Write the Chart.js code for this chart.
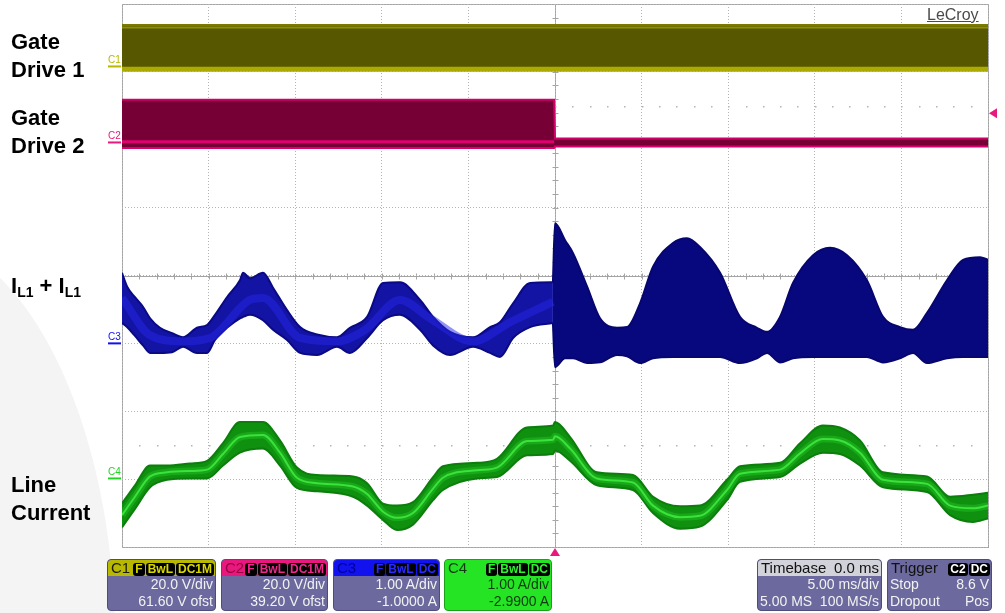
<!DOCTYPE html>
<html>
<head>
<meta charset="utf-8">
<title>Gate drive / inductor / line current capture</title>
<script src="https://cdn.jsdelivr.net/npm/chart.js@4.4.1/dist/chart.umd.min.js"></script>
<style>
  html, body { margin: 0; padding: 0; background: #fff; }
  #wrap { position: relative; width: 1005px; height: 613px; overflow: hidden;
          font-family: "Liberation Sans", Arial, sans-serif; }
  #swoosh { position: absolute; left: -310px; top: 232px; width: 425px; height: 820px;
            border-radius: 50%; background: #f4f4f4; }
  #scope { position: absolute; left: 0; top: 0; }
  .lbl { position: absolute; left: 11px; font-weight: bold; font-size: 22px; line-height: 28px; color: #000; }
  .lbl sub { font-size: 14px; vertical-align: -4px; line-height: 0; }
  #brand { position: absolute; left: 927px; top: 6px; font-size: 16px; color: #4a4a4a; text-decoration: underline; }

  .box { position: absolute; top: 559px; height: 52px; box-sizing: border-box; border-radius: 4px;
         background: #6b699d; border: 1px solid #4e4c7c; overflow: hidden; color: #f2f2f2; font-size: 14px; }
  .hdr { height: 16px; line-height: 16px; padding: 0 1px 0 3px; display: flex;
         justify-content: space-between; align-items: center; font-size: 15px; border-radius: 3px 3px 0 0; }
  .row { height: 17px; line-height: 17px; padding: 0 2px; text-align: right; white-space: nowrap; }
  .row.split { display: flex; justify-content: space-between; }
  .bd { display: inline-block; background: #000; border-radius: 3px; padding: 0 2px; margin-left: 1px;
        font-size: 12px; line-height: 13px; height: 13px; }
</style>
</head>
<body>
<div id="wrap">
  <div id="swoosh"></div>
  <canvas id="scope" width="1005" height="613"></canvas>

  <div class="lbl" style="top:28px">Gate<br>Drive 1</div>
  <div class="lbl" style="top:104px">Gate<br>Drive 2</div>
  <div class="lbl" style="top:272px">I<sub>L1</sub> + I<sub>L1</sub></div>
  <div class="lbl" style="top:471px">Line<br>Current</div>
  <div id="brand">LeCroy</div>

  <!-- channel / timebase / trigger readouts -->
  <div class="box" style="left:107px;width:109px">
    <div class="hdr" style="background:#b8b800;color:#1a1a00"><span>C1</span>
      <span><b class="bd" style="color:#d8d800">F</b><b class="bd" style="color:#d8d800">BwL</b><b class="bd" style="color:#d8d800">DC1M</b></span></div>
    <div class="row">20.0 V/div</div>
    <div class="row">61.60 V ofst</div>
  </div>
  <div class="box" style="left:221px;width:107px">
    <div class="hdr" style="background:#e8187e;color:#9a0040"><span>C2</span>
      <span><b class="bd" style="color:#f0288c">F</b><b class="bd" style="color:#f0288c">BwL</b><b class="bd" style="color:#f0288c">DC1M</b></span></div>
    <div class="row">20.0 V/div</div>
    <div class="row">39.20 V ofst</div>
  </div>
  <div class="box" style="left:333px;width:107px">
    <div class="hdr" style="background:#1212ee;color:#0000a0"><span>C3</span>
      <span><b class="bd" style="color:#2a2aff">F</b><b class="bd" style="color:#2a2aff">BwL</b><b class="bd" style="color:#2a2aff">DC</b></span></div>
    <div class="row">1.00 A/div</div>
    <div class="row">-1.0000 A</div>
  </div>
  <div class="box" style="left:444px;width:108px;background:#24e424;border-color:#1aa01a;color:#123a12">
    <div class="hdr" style="background:#24e424;color:#123a12"><span>C4</span>
      <span><b class="bd" style="color:#30f030">F</b><b class="bd" style="color:#30f030">BwL</b><b class="bd" style="color:#30f030">DC</b></span></div>
    <div class="row">1.00 A/div</div>
    <div class="row">-2.9900 A</div>
  </div>
  <div class="box" style="left:757px;width:125px">
    <div class="hdr" style="background:#d2d2da;color:#111;padding-right:2px"><span>Timebase</span><span>0.0 ms</span></div>
    <div class="row">5.00 ms/div</div>
    <div class="row split"><span>5.00 MS</span><span>100 MS/s</span></div>
  </div>
  <div class="box" style="left:887px;width:105px">
    <div class="hdr" style="color:#111"><span>Trigger</span>
      <span><b class="bd" style="color:#fff">C2</b><b class="bd" style="color:#fff">DC</b></span></div>
    <div class="row split"><span>Stop</span><span>8.6 V</span></div>
    <div class="row split"><span>Dropout</span><span>Pos</span></div>
  </div>
</div>

<script>
// ---------------------------------------------------------------
// Data: time in ms (5 ms/div, trigger at 0), levels in screen divisions
// from the graticule centre (+4 top, -4 bottom)
// ---------------------------------------------------------------
const gateTime = [-25, 25];
const gd1Top = [3.69, 3.69];
const gd1TopEdge = [3.655, 3.655];
const gd1Bottom = [3.04, 3.04];

const gd2Time = [-25, -0.05, 0, 25];
const gd2Top = [2.59, 2.59, 2.02, 2.02];
const gd2Bottom = [1.88, 1.88, 1.90, 1.90];
const gd2LineTime = [-25, -0.05];
const gd2Line = [1.97, 1.97];

// C3: inductor current envelope
const c3Time = [-25.00, -24.71, -24.25, -23.79, -23.38, -22.81, -22.11, -21.48, -20.67, -20.09,
  -19.63, -18.94, -18.19, -18.01, -17.61, -16.86, -16.28, -15.47, -14.72, -13.74,
  -12.59, -11.84, -10.85, -9.93, -8.95, -7.79, -7.04, -6.06, -4.73, -3.75,
  -3.18, -2.42, -1.44, -0.12,
  0.00, 0.58, 1.04, 1.85, 2.60, 3.58, 4.16, 4.91, 5.66, 6.81,
  7.62, 8.37, 9.53, 10.68, 11.66, 12.24, 12.99, 13.74, 14.90, 15.88,
  16.86, 18.01, 18.94, 19.92, 20.67, 21.48, 22.63, 23.56, 24.54, 25.00];
const c3Upper = [0.04, -0.16, -0.32, -0.46, -0.63, -0.77, -0.85, -0.91, -0.77, -0.73,
  -0.58, -0.32, -0.07, 0.04, -0.04, 0.04, -0.18, -0.51, -0.76, -0.87,
  -0.91, -0.77, -0.61, -0.11, -0.10, -0.36, -0.61, -0.83, -0.91, -0.76,
  -0.69, -0.41, -0.11, -0.10,
  0.77, 0.52, 0.33, -0.16, -0.63, -0.77, -0.76, -0.41, 0.13, 0.48,
  0.55, 0.42, 0.04, -0.61, -0.77, -0.83, -0.61, -0.11, 0.30, 0.41,
  0.30, -0.07, -0.61, -0.76, -0.80, -0.55, -0.07, 0.23, 0.27, 0.23];
const c3Lower = [-0.70, -0.76, -0.89, -1.03, -1.14, -1.14, -1.13, -1.05, -1.14, -1.14,
  -0.95, -0.77, -0.63, -0.61, -0.58, -0.66, -0.80, -0.95, -1.14, -1.17,
  -1.05, -1.14, -0.92, -0.66, -0.58, -0.80, -1.03, -1.17, -1.05, -1.14,
  -1.20, -0.92, -0.76, -0.70,
  -1.35, -1.22, -1.22, -1.29, -1.28, -1.17, -1.19, -1.29, -1.22, -1.20,
  -1.20, -1.20, -1.20, -1.29, -1.22, -1.14, -1.28, -1.22, -1.20, -1.20,
  -1.20, -1.20, -1.28, -1.22, -1.14, -1.29, -1.22, -1.20, -1.20, -1.20];
const c3CoreTime = [-25.00, -23.38, -21.48, -19.92, -17.61, -16.86, -14.72, -12.59, -10.97, -8.95,
  -7.22, -4.73, -2.60, -0.12];
const c3Core = [-0.33, -0.88, -0.97, -0.92, -0.36, -0.33, -0.92, -0.97, -0.80, -0.36,
  -0.63, -0.97, -0.69, -0.39];

// C4: line current envelope
const c4Time = [-25.00, -24.25, -23.38, -22.40, -21.07, -20.09, -19.17, -18.19, -16.86, -15.88,
  -14.90, -13.74, -11.66, -10.85, -9.93, -9.12, -8.20, -7.04, -6.47, -4.50,
  -3.35, -1.62, -0.12,
  0.00, 0.87, 2.42, 4.50, 5.66, 7.22, 8.37, 9.93, 10.68, 12.99,
  14.15, 15.47, 16.45, 17.61, 18.94, 21.48, 22.81, 24.13, 25.00];
const c4Upper = [-3.36, -3.09, -2.80, -2.80, -2.77, -2.73, -2.47, -2.16, -2.16, -2.43,
  -2.83, -2.94, -2.96, -3.06, -3.36, -3.39, -3.34, -2.97, -2.81, -2.76,
  -2.70, -2.24, -2.21,
  -2.16, -2.38, -2.90, -2.94, -3.26, -3.40, -3.39, -3.01, -2.81, -2.76,
  -2.47, -2.21, -2.24, -2.43, -2.90, -2.96, -3.26, -3.23, -3.20];
const c4Lower = [-3.71, -3.44, -3.12, -3.01, -2.99, -2.99, -2.80, -2.61, -2.55, -2.80,
  -3.13, -3.18, -3.26, -3.39, -3.60, -3.75, -3.67, -3.31, -3.16, -2.99,
  -2.97, -2.65, -2.63,
  -2.58, -2.73, -3.09, -3.16, -3.50, -3.73, -3.70, -3.31, -3.04, -2.97,
  -2.77, -2.61, -2.63, -2.80, -3.12, -3.19, -3.53, -3.63, -3.58];
const c4Mid = [-3.53, -3.26, -2.96, -2.90, -2.88, -2.86, -2.63, -2.38, -2.35, -2.61,
  -2.98, -3.06, -3.11, -3.22, -3.48, -3.57, -3.50, -3.14, -2.98, -2.87,
  -2.83, -2.44, -2.42,
  -2.37, -2.55, -2.99, -3.05, -3.39, -3.56, -3.54, -3.16, -2.92, -2.86,
  -2.62, -2.41, -2.43, -2.61, -3.01, -3.07, -3.39, -3.43, -3.39];

// channel offset markers (from the readouts: offset / volts-per-div) and trigger
const chNames = ['C1', 'C2', 'C3', 'C4'];
const chColors = ['#b8b800', '#e8187e', '#1212ee', '#24d424'];
const chOffset = [61.60, 39.20, -1.0, -2.99];
const chPerDiv = [20.0, 20.0, 1.0, 1.0];
const trigLevel = 8.6;   // V on C2

// ---------------------------------------------------------------
const pts = (t, v) => t.map((x, i) => ({ x: x, y: v[i] }));
const datasets = [];

function band(time, up, lo, fill, upColor, loColor, upW, loW, smooth) {
  const mode = smooth ? 'monotone' : 'default';
  datasets.push({ data: pts(time, up), fill: '+1', backgroundColor: fill,
    borderColor: upColor, borderWidth: upW, order: 2, cubicInterpolationMode: mode });
  datasets.push({ data: pts(time, lo), fill: false,
    borderColor: loColor, borderWidth: loW, order: 2, cubicInterpolationMode: mode });
}
function trace(time, vals, color, w, order, smooth) {
  datasets.push({ data: pts(time, vals), fill: false, borderColor: color,
    borderWidth: w, order: order, cubicInterpolationMode: smooth ? 'monotone' : 'default' });
}

// gate drive 1
band(gateTime, gd1Top, gd1Bottom, '#575700', '#7a7a00', '#aaaa00', 2, 5, false);
trace(gateTime, gd1TopEdge, '#8f8f00', 2, 1, false);
// gate drive 2
band(gd2Time, gd2Top, gd2Bottom, '#760036', '#d0006a', '#d8006e', 2, 2, false);
trace(gd2LineTime, gd2Line, '#e0006f', 3, 1, false);
// C3 split at trigger (brighter before, dense navy after)
const split = c3Time.indexOf(0);
band(c3Time.slice(0, split), c3Upper.slice(0, split), c3Lower.slice(0, split),
  '#1313a4', '#0a0a84', '#0a0a84', 2, 2, true);
band(c3Time.slice(split - 1), c3Upper.slice(split - 1), c3Lower.slice(split - 1),
  '#08087e', '#06066e', '#06066e', 2, 2, true);
trace(c3CoreTime, c3Core, 'rgba(40,40,236,0.5)', 8, 1, true);
// C4
band(c4Time, c4Upper, c4Lower, '#0f900f', '#0b7e0b', '#0b7e0b', 2, 2, true);
trace(c4Time, c4Mid, '#19a819', 7, 1, true);
trace(c4Time, c4Mid, '#3ce23c', 2, 0, true);

// graticule: frame, centre cross with minor ticks, half-division dot rows
const graticule = {
  id: 'graticule',
  beforeDraw(chart) {
    const { ctx, chartArea: a, scales: { x, y } } = chart;
    ctx.save();
    ctx.strokeStyle = '#a4a4a4';
    ctx.lineWidth = 1;
    ctx.strokeRect(Math.round(a.left) + 0.5, Math.round(a.top) + 0.5,
      Math.round(a.right - a.left), Math.round(a.bottom - a.top));
    const cx = Math.round(x.getPixelForValue(0)) + 0.5;
    const cy = Math.round(y.getPixelForValue(0)) + 0.5;
    ctx.beginPath();
    ctx.moveTo(a.left, cy); ctx.lineTo(a.right, cy);
    ctx.moveTo(cx, a.top); ctx.lineTo(cx, a.bottom);
    for (let t = -25; t <= 25; t += 1) {
      const px = Math.round(x.getPixelForValue(t)) + 0.5;
      ctx.moveTo(px, cy - 3); ctx.lineTo(px, cy + 3);
    }
    for (let d = -4; d <= 4.001; d += 0.2) {
      const py = Math.round(y.getPixelForValue(d)) + 0.5;
      ctx.moveTo(cx - 3, py); ctx.lineTo(cx + 3, py);
    }
    ctx.stroke();
    ctx.fillStyle = '#b4b4b4';
    [2.5, -2.5].forEach(d => {
      const py = Math.round(y.getPixelForValue(d));
      for (let t = -24; t <= 24; t += 1) {
        ctx.fillRect(Math.round(x.getPixelForValue(t)), py, 1.5, 1.5);
      }
    });
    ctx.restore();
  },
  afterDatasetsDraw(chart) {
    const { ctx, chartArea: a, scales: { x, y } } = chart;
    ctx.save();
    ctx.font = '10px "Liberation Sans", Arial, sans-serif';
    chNames.forEach((n, i) => {
      const py = y.getPixelForValue(chOffset[i] / chPerDiv[i]);
      ctx.fillStyle = chColors[i];
      ctx.fillText(n, a.left - 14, py - 3);
      ctx.fillRect(a.left - 14, py - 1, 13, 2);
    });
    // trigger position and level markers
    ctx.fillStyle = '#e8187e';
    const tx = x.getPixelForValue(0);
    ctx.beginPath();
    ctx.moveTo(tx, a.bottom + 1); ctx.lineTo(tx - 5, a.bottom + 9); ctx.lineTo(tx + 5, a.bottom + 9);
    ctx.fill();
    const ty = y.getPixelForValue((trigLevel + chOffset[1]) / chPerDiv[1]);
    ctx.beginPath();
    ctx.moveTo(a.right + 1, ty); ctx.lineTo(a.right + 9, ty - 5); ctx.lineTo(a.right + 9, ty + 5);
    ctx.fill();
    ctx.restore();
  }
};

new Chart(document.getElementById('scope'), {
  type: 'line',
  data: { datasets: datasets },
  options: {
    responsive: false,
    animation: false,
    events: [],
    layout: { padding: { left: 122, right: 17, top: 4, bottom: 66 } },
    elements: { point: { radius: 0 }, line: { tension: 0 } },
    plugins: {
      legend: { display: false },
      tooltip: { enabled: false },
      filler: { drawTime: 'beforeDatasetsDraw' }
    },
    scales: {
      x: {
        type: 'linear', min: -25, max: 25,
        ticks: { display: false, stepSize: 5 },
        grid: { color: '#b4b4b4', drawTicks: false },
        border: { display: false, dash: [1, 2] }
      },
      y: {
        type: 'linear', min: -4, max: 4,
        ticks: { display: false, stepSize: 1 },
        grid: { color: '#b4b4b4', drawTicks: false },
        border: { display: false, dash: [1, 2] }
      }
    }
  },
  plugins: [graticule]
});
</script>
</body>
</html>
